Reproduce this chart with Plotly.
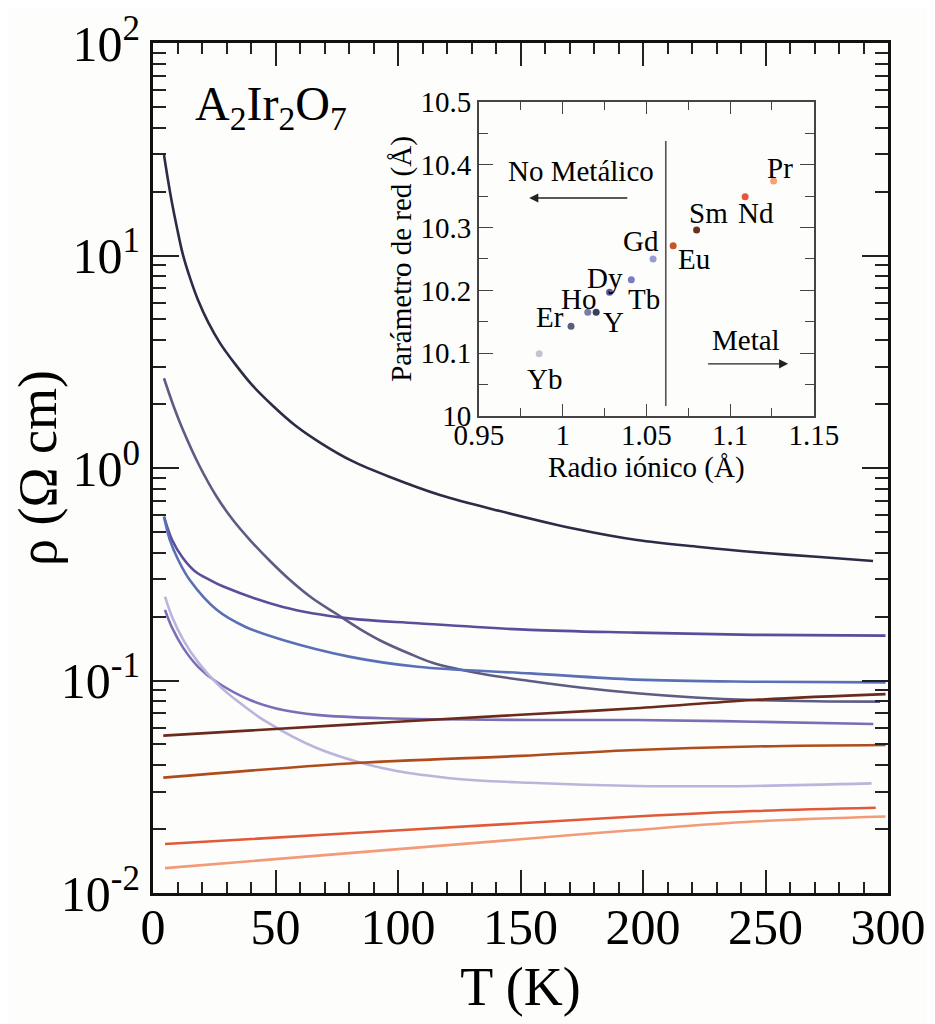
import plotly.graph_objects as go

FONT = "Times New Roman, Liberation Serif, serif"

# ---------------- main curves: T (K) and rho (Ohm cm) ----------------
T1 = [4.49, 6.12, 7.76, 9.80, 12.24, 15.10, 18.37, 22.45, 27.35, 33.47, 40.41, 48.57,
      57.96, 68.98, 81.22, 96.73, 117.14, 141.63, 172.65, 197.55, 223.27, 244.9, 272.2, 293.9]
R1 = [29.7, 22.66, 17.66, 13.47, 10.06, 7.84, 6.17, 4.87, 3.87, 3.09, 2.46, 1.98,
      1.59, 1.30, 1.08, 0.907, 0.746, 0.627, 0.516, 0.458, 0.425, 0.4025, 0.381, 0.365]

T2 = [4.49, 8.16, 12.24, 18.78, 26.0, 32.65, 39.59, 47.76, 55.92, 64.9, 74.98, 84.49,
      94.0, 104.08, 114.41, 134.69, 153.88, 174.29, 197.43, 221.22, 245.02, 270.2, 296.73]
R2 = [2.644, 1.990, 1.509, 1.033, 0.7325, 0.5691, 0.4583, 0.3650, 0.2971, 0.2444, 0.2055, 0.1747,
      0.1518, 0.1347, 0.1209, 0.1073, 0.0995, 0.0927, 0.0871, 0.0832, 0.0809, 0.0798, 0.0795]

T3 = [4.5, 7.8, 12.2, 17.1, 23.3, 28.7, 53, 80, 108, 154, 197, 245, 299]
R3 = [0.59, 0.458, 0.377, 0.327, 0.297, 0.277, 0.222, 0.196, 0.186, 0.173, 0.168, 0.164, 0.1626]

T4 = [4.5, 6.9, 10.3, 15, 26, 37.6, 53, 80, 108, 154, 197, 245, 299]
R4 = [0.59, 0.458, 0.369, 0.297, 0.215, 0.179, 0.155, 0.1295, 0.116, 0.108, 0.101, 0.0987, 0.098]

T5 = [4.9, 7.8, 12.4, 18.4, 26, 39.6, 53.1, 66.8, 94, 154, 197, 245, 294]
R5 = [0.215, 0.177, 0.142, 0.116, 0.0984, 0.081, 0.0726, 0.0689, 0.0664, 0.0652, 0.0652, 0.064, 0.0624]

T6 = [4.9, 7.8, 12.4, 18.4, 26, 35.5, 46.4, 66.8, 94, 121.2, 153.9, 197.4, 245, 293.3]
R6 = [0.248, 0.199, 0.155, 0.122, 0.097, 0.0783, 0.0638, 0.0481, 0.0386, 0.0347, 0.0330, 0.0319, 0.0319, 0.0328]

T7 = [4.2, 80, 150, 197, 245, 299]
R7 = [0.055, 0.062, 0.069, 0.074, 0.081, 0.0863]

T8 = [4.2, 80, 150, 197, 245, 299]
R8 = [0.0349, 0.0407, 0.0442, 0.0471, 0.0489, 0.0497]

T9 = [4.9, 80, 150, 197, 245, 295]
R9 = [0.0170, 0.0191, 0.0213, 0.0229, 0.0243, 0.0252]

T10 = [4.9, 80, 150, 197, 245, 299]
R10 = [0.0131, 0.0154, 0.0179, 0.0198, 0.0217, 0.0229]

curve_colors = ["#2b2d46", "#5c5c84", "#5d4c9c", "#5a70b6", "#7c6eb6",
                "#bcb4dc", "#6c2a1c", "#b04c1c", "#e05a3a", "#f39a78"]

# ---------------- inset: ionic radius vs lattice parameter ----------------
elements = ["Yb", "Er", "Ho", "Y", "Dy", "Tb", "Gd", "Eu", "Sm", "Nd", "Pr"]
radius = [0.986, 1.005, 1.015, 1.020, 1.028, 1.041, 1.054, 1.066, 1.080, 1.109, 1.126]
lattice = [10.099, 10.143, 10.165, 10.165, 10.197, 10.217, 10.250, 10.271, 10.296, 10.349, 10.374]
marker_colors = ["#c4c4cc", "#5c5c7c", "#7c7ca4", "#3c3c5c", "#5a5aa4", "#7c7ac4",
                 "#9c9ad2", "#c4562a", "#6e3020", "#e8563a", "#f5a272"]
label_x = [0.9894, 0.9924, 1.0093, 1.0302, 1.0252, 1.0485, 1.0465, 1.0784, 1.0869, 1.1154, 1.1297]
label_y = [10.059, 10.158, 10.187, 10.149, 10.220, 10.187, 10.279, 10.250, 10.323, 10.323, 10.395]

fig = go.Figure()

series = [(T1, R1), (T2, R2), (T3, R3), (T4, R4), (T5, R5),
          (T6, R6), (T7, R7), (T8, R8), (T9, R9), (T10, R10)]
for (t, r), c in zip(series, curve_colors):
    fig.add_trace(go.Scatter(x=t, y=r, mode="lines",
                             line=dict(color=c, width=2.6, shape="spline", smoothing=1.0),
                             showlegend=False, xaxis="x", yaxis="y"))

fig.add_trace(go.Scatter(x=radius, y=lattice, mode="markers",
                         marker=dict(color=marker_colors, size=7),
                         showlegend=False, xaxis="x2", yaxis="y2"))

# minor ticks for log axis
minor_vals = [m * 10 ** e for e in range(-2, 2) for m in range(2, 10)]

# the page body has an 8 px margin, so the figure is 8 px smaller and margins shifted
fig.update_layout(
    width=927, height=1016,
    margin=dict(l=145, r=47, t=35, b=131),
    paper_bgcolor="#fdfdfb", plot_bgcolor="#fdfdfb",
    font=dict(family=FONT, color="black"),
    xaxis=dict(range=[0, 300], tickvals=[0, 50, 100, 150, 200, 250, 300],
               ticks="inside", ticklen=23, tickwidth=1.6, tickcolor="#222",
               minor=dict(dtick=10, ticks="inside", ticklen=11, tickwidth=1.6, tickcolor="#222"),
               showline=True, linewidth=3, linecolor="#111", mirror="ticks",
               showgrid=False, zeroline=False, automargin=False,
               ticklabelstandoff=-12,
               tickfont=dict(size=50, family=FONT),
               title=dict(text="T (K)", font=dict(size=54, family=FONT), standoff=14)),
    yaxis=dict(type="log", range=[-2, 2],
               tickvals=[0.01, 0.1, 1, 10, 100],
               ticktext=["10<sup>-2</sup>", "10<sup>-1</sup>", "10<sup>0</sup>",
                         "10<sup>1</sup>", "10<sup>2</sup>"],
               ticks="inside", ticklen=26, tickwidth=1.6, tickcolor="#222",
               minor=dict(tickvals=minor_vals, ticks="inside", ticklen=13, tickwidth=1.6, tickcolor="#222"),
               showline=True, linewidth=3, linecolor="#111", mirror="ticks",
               showgrid=False, zeroline=False, automargin=False,
               tickfont=dict(size=50, family=FONT),
               title=dict(text="ρ (Ω cm)", font=dict(size=54, family=FONT), standoff=6)),
    xaxis2=dict(domain=[0.4435, 0.899], anchor="y2", range=[0.95, 1.15],
                tickvals=[0.95, 1.0, 1.05, 1.1, 1.15],
                ticktext=["0.95", "1", "1.05", "1.1", "1.15"],
                ticks="inside", ticklen=12, tickwidth=1.3, tickcolor="#444",
                minor=dict(dtick=0.025, ticks="inside", ticklen=8, tickwidth=1.3, tickcolor="#444"),
                showline=True, linewidth=1.6, linecolor="#444", mirror="ticks",
                showgrid=False, zeroline=False, automargin=False,
                ticklabelstandoff=-8,
                tickfont=dict(size=29, family=FONT),
                title=dict(text="Radio iónico (Å)", font=dict(size=29, family=FONT), standoff=6)),
    yaxis2=dict(domain=[0.5612, 0.9306], anchor="x2", range=[10, 10.5],
                tickvals=[10, 10.1, 10.2, 10.3, 10.4, 10.5],
                ticktext=["10", "10.1", "10.2", "10.3", "10.4", "10.5"],
                ticks="inside", ticklen=14, tickwidth=1.3, tickcolor="#444",
                minor=dict(dtick=0.05, ticks="inside", ticklen=9, tickwidth=1.3, tickcolor="#444"),
                showline=True, linewidth=1.6, linecolor="#444", mirror="ticks",
                showgrid=False, zeroline=False, automargin=False,
                tickfont=dict(size=29, family=FONT),
                title=dict(text="Parámetro de red (Å)", font=dict(size=29, family=FONT), standoff=0)),
)

annotations = [
    dict(text="A<sub>2</sub>Ir<sub>2</sub>O<sub>7</sub>", x=0.1605, y=0.925,
         xref="paper", yref="paper", xanchor="center", yanchor="middle", showarrow=False,
         font=dict(size=48, family=FONT)),
    dict(text="No Metálico", x=1.011, y=10.39, xref="x2", yref="y2", showarrow=False,
         xanchor="center", font=dict(size=29, family=FONT)),
    dict(text="Metal", x=1.1098, y=10.121, xref="x2", yref="y2", showarrow=False,
         xanchor="center", font=dict(size=29, family=FONT)),
    dict(text="", x=0.980, y=10.347, ax=1.0395, ay=10.347, xref="x2", yref="y2",
         axref="x2", ayref="y2", showarrow=True, arrowhead=2, arrowsize=1.3,
         arrowwidth=1.4, arrowcolor="#222"),
    dict(text="", x=1.1347, y=10.083, ax=1.086, ay=10.083, xref="x2", yref="y2",
         axref="x2", ayref="y2", showarrow=True, arrowhead=2, arrowsize=1.3,
         arrowwidth=1.4, arrowcolor="#222"),
]
for name, lx, ly in zip(elements, label_x, label_y):
    annotations.append(dict(text=name, x=lx, y=ly, xref="x2", yref="y2", showarrow=False,
                            xanchor="center", font=dict(size=29, family=FONT)))
fig.update_layout(annotations=annotations)

fig.add_shape(type="line", x0=1.0616, x1=1.0616, y0=10.016, y1=10.438,
              xref="x2", yref="y2", line=dict(color="#555", width=1.6))

fig.write_html("out.html")
